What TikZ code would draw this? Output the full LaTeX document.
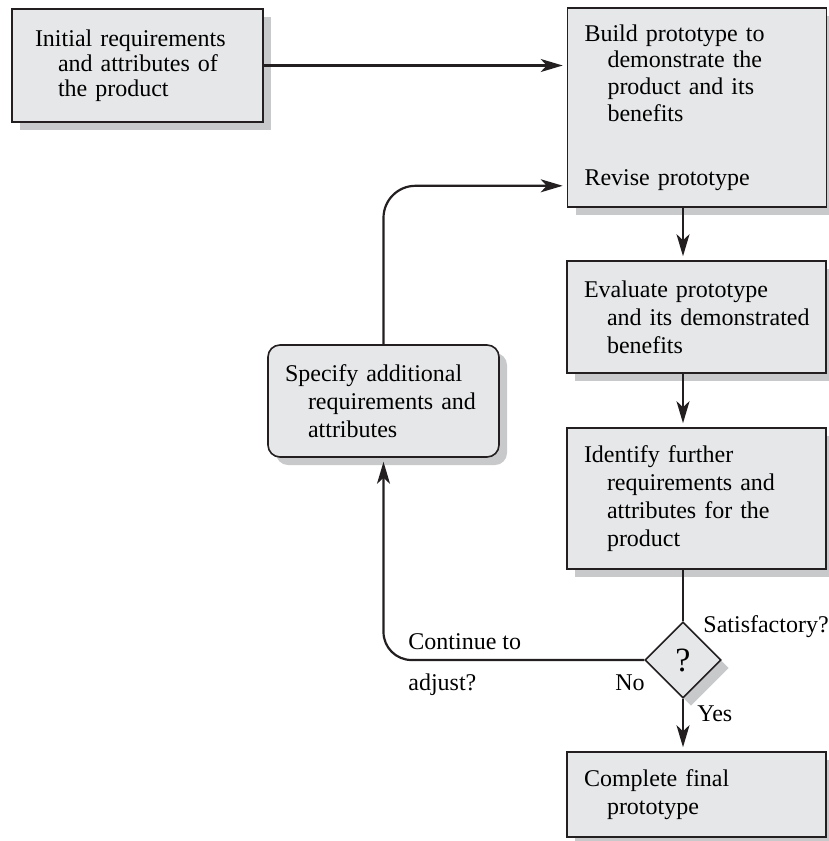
\documentclass[tikz,border=0pt]{standalone}
\usepackage{fontspec}
\setmainfont{Liberation Serif}
\usetikzlibrary{arrows.meta,shapes.geometric,shadows}

\definecolor{ink}{HTML}{231F20}
\definecolor{paper}{HTML}{E6E7E8}
\definecolor{shade}{HTML}{C8C9CB}

% first line flush left, the rest indented (\\ must not end the paragraph)
\newcommand{\hangtxt}[1]{\raggedright\let\\\newline
  \noindent\hangindent=11.5pt\hangafter=1\relax #1\par}

\begin{document}
\begin{tikzpicture}
  [x=0.5pt,y=-0.5pt,
   shadowed/.style={general shadow={fill=shade,shadow xshift=4pt,shadow yshift=-4pt}},
   stage/.style={rectangle,draw=ink,fill=paper,line width=0.8pt,shadowed,
     inner xsep=8.5pt,inner ysep=0pt,text width=112.5pt,
     font=\fontsize{12}{14}\selectfont},
   lbl/.style={inner sep=0pt,anchor=base west,font=\fontsize{12}{14}\selectfont},
   flow/.style={draw=ink,line width=1.1pt,shorten >=2pt,
     -{Stealth[length=11pt,width=6.5pt,inset=3pt]}}]
  \useasboundingbox (0,0) rectangle (829,841);

  \node[stage,inner xsep=11.5pt,text width=102.5pt,minimum height=56.5pt,
        font=\fontsize{12}{12.5}\selectfont] (initial) at (137.5,65.5)
    {\hangtxt{Initial requirements\\and attributes of\\the product}};
  \node[stage,minimum height=99.5pt,font=\fontsize{12}{13.3}\selectfont]
    (build) at (697,107.5)
    {\hangtxt{Build prototype to\\demonstrate the\\product and its\\benefits}
     \vspace{18.7pt}\noindent Revise prototype};
  \node[stage,minimum height=56pt] (evaluate) at (696.5,317)
    {\hangtxt{Evaluate prototype\\\mbox{and its demonstrated}\\benefits}};
  \node[stage,minimum height=70.5pt] (identify) at (696.5,498.5)
    {\hangtxt{Identify further\\requirements and\\attributes for the\\product}};
  \node[stage,minimum height=42.5pt] (complete) at (696.5,794.5)
    {\hangtxt{Complete final\\prototype}};
  \node[stage,rounded corners=6pt,text width=98.5pt,minimum height=56pt]
    (specify) at (383.5,401)
    {\hangtxt{Specify additional\\requirements and\\attributes}};
  \node[diamond,draw=ink,fill=paper,line width=0.8pt,shadowed,minimum size=38pt,
        inner sep=0pt,font=\fontsize{17}{17}\selectfont] (check) at (683,660) {?};

  \node[lbl] (satis)  at (703,632) {Satisfactory?};
  \node[lbl] (cont)   at (408,649) {Continue to};
  \node[lbl] (adjust) at (408,690) {adjust?};
  \node[lbl] (no)     at (615,690) {No};
  \node[lbl] (yes)    at (697,721) {Yes};

  \coordinate (revise) at ([yshift=11pt]build.south west);

  \draw[flow] (initial.east) -- (initial.east -| build.west);
  \foreach \from/\to in {build/evaluate,evaluate/identify}
    \draw[flow] (\from.south -| check) -- (\to.north -| check);
  \draw[flow,shorten >=0pt,-] (identify.south -| check) -- (check.north);
  \draw[flow] (check.south) -- (complete.north -| check);
  \draw[flow,rounded corners=14pt] (check.west) -| (specify.south);
  \draw[flow,rounded corners=16pt] (specify.north) |- (revise);

\end{tikzpicture}
\end{document}
